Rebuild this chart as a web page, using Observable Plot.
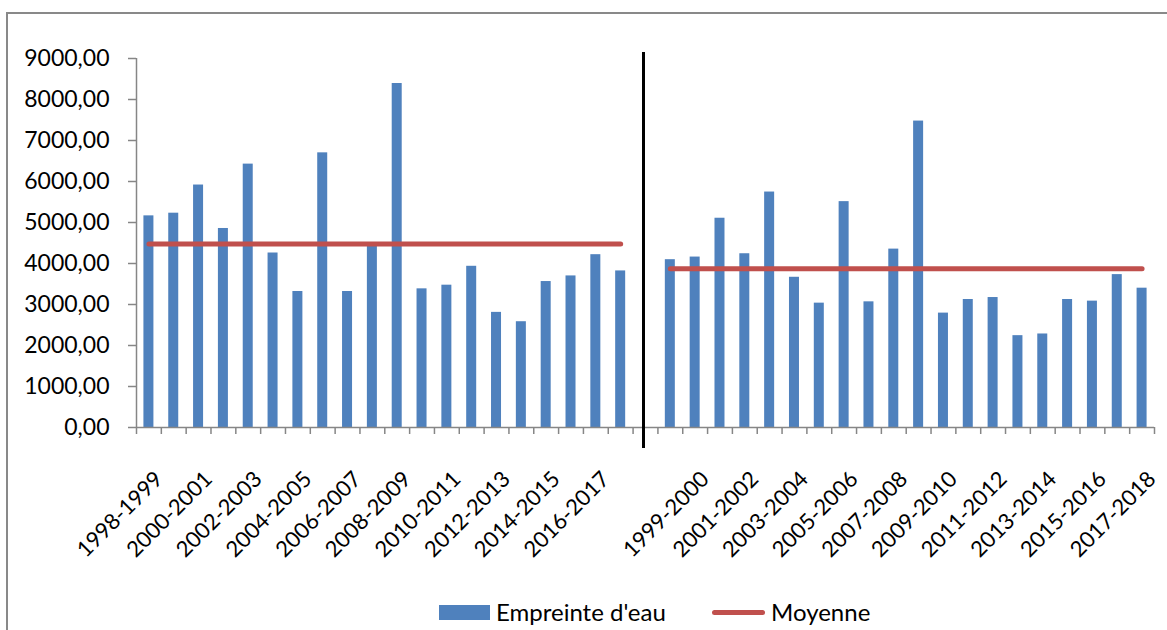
<!DOCTYPE html>
<html>
<head>
<meta charset="utf-8">
<script src="https://cdn.jsdelivr.net/npm/d3@7"></script>
<script src="https://cdn.jsdelivr.net/npm/@observablehq/plot@0.6"></script>
<style>
  html, body { margin: 0; padding: 0; background: #fff; overflow: hidden; width: 1167px; height: 630px; }
  #wrap { position: relative; width: 1167px; height: 630px; font-family: Lato, "Open Sans", sans-serif; color: #000; overflow: hidden; }
  #frame { position: absolute; left: 6px; top: 12px; width: 1400px; height: 900px; border: 2px solid #898989; box-sizing: border-box; }
  #chart { position: absolute; left: 0; top: 0; }
  .lg { position: absolute; }
  #swBar { left: 439px; top: 605px; width: 51px; height: 15px; background: #4F81BD; }
  #txtBar { left: 496px; top: 598px; font-size: 24px; line-height: 28px; white-space: nowrap; }
  #swLine { left: 712px; top: 610px; width: 53px; height: 5px; background: #C0504D; border-radius: 3px; }
  #txtLine { left: 771px; top: 598px; font-size: 24px; line-height: 28px; white-space: nowrap; }
</style>
</head>
<body>
<div id="wrap">
  <div id="frame"></div>
  <div id="chart"></div>
  <div class="lg" id="swBar"></div>
  <div class="lg" id="txtBar"></div>
  <div class="lg" id="swLine"></div>
  <div class="lg" id="txtLine"></div>
</div>
<script>
// ---- data ----
const saisons = ["1998-1999","1999-2000","2000-2001","2001-2002","2002-2003","2003-2004","2004-2005",
  "2005-2006","2006-2007","2007-2008","2008-2009","2009-2010","2010-2011","2011-2012","2012-2013",
  "2013-2014","2014-2015","2015-2016","2016-2017","2017-2018"];
const empreinteGauche = [5162,5227,5914,4854,6424,4256,3317,6699,3317,4500,8390,3382,3471,3932,2808,2580,3560,3697,4215,3819];
const empreinteDroite = [4093,4157,5104,4238,5743,3664,3033,5509,3065,4351,7474,2790,3122,3170,2240,2281,3122,3082,3729,3398];
const moyenneGauche = 4475;
const moyenneDroite = 3870;
const yTicks = [0,1000,2000,3000,4000,5000,6000,7000,8000,9000];
const legendLabels = ["Empreinte d'eau", "Moyenne"];

// ---- build tables ----
const keyG = saisons.map(s => "G|" + s);
const keyD = saisons.map(s => "D|" + s);
const domain = [...keyG, "gap", ...keyD];
const bars = [
  ...keyG.map((k, i) => ({key: k, value: empreinteGauche[i]})),
  ...keyD.map((k, i) => ({key: k, value: empreinteDroite[i]}))
];
const meanG = keyG.map(k => ({key: k, value: moyenneGauche}));
const meanD = keyD.map(k => ({key: k, value: moyenneDroite}));
const labels = domain
  .map((k, i) => ({key: k, i, label: k.includes("|") ? k.split("|")[1] : ""}))
  .filter(d => d.i % 2 === 0 && d.label !== "");

const W = 1167, H = 630, mL = 136, mR = 13, mT = 58, mB = 203;
const step = (W - mL - mR) / domain.length;
const barW = 10;
const inset = (step - barW) / 2;
const axisGray = "#868686";

const chart = Plot.plot({
  width: W, height: H,
  marginLeft: mL, marginRight: mR, marginTop: mT, marginBottom: mB,
  style: {fontFamily: "Lato, 'Open Sans', sans-serif", fontSize: "23px", color: "#000", background: "transparent", overflow: "visible"},
  x: {type: "band", domain, padding: 0, axis: null, label: null},
  y: {domain: [0, 9000], axis: null, label: null},
  marks: [
    Plot.barY(bars, {x: "key", y: "value", fill: "#4F81BD", insetLeft: inset, insetRight: inset}),
    Plot.ruleY([0], {stroke: axisGray, strokeWidth: 1.5}),
    Plot.ruleX([domain[0]], {dx: -step / 2, stroke: axisGray, strokeWidth: 1.5}),
    Plot.axisY({ticks: yTicks, tickFormat: d => d.toFixed(2).replace(".", ","), tickSize: 8, tickPadding: 19,
      stroke: axisGray, strokeWidth: 1.5, fill: "#000", fontSize: 23, label: null}),
    Plot.axisX({ticks: domain, tickFormat: () => "", tickSize: 7, dx: -step / 2, stroke: axisGray, strokeWidth: 1.5, label: null}),
    Plot.axisX({ticks: [domain[domain.length - 1]], tickFormat: () => "", tickSize: 7, dx: step / 2, stroke: axisGray, strokeWidth: 1.5, label: null}),
    Plot.text(labels, {x: "key", text: "label", frameAnchor: "bottom", rotate: -45, textAnchor: "end",
      lineAnchor: "top", dx: 4, dy: 42, fontSize: 22, fill: "#000"}),
    Plot.lineY(meanG, {x: "key", y: "value", stroke: "#C0504D", strokeWidth: 5, strokeLinecap: "round"}),
    Plot.lineY(meanD, {x: "key", y: "value", stroke: "#C0504D", strokeWidth: 5, strokeLinecap: "round"}),
    Plot.ruleX(["gap"], {stroke: "#000", strokeWidth: 3, insetTop: -6, insetBottom: -21, dx: -2})
  ]
});
document.getElementById("chart").appendChild(chart);
document.getElementById("txtBar").textContent = legendLabels[0];
document.getElementById("txtLine").textContent = legendLabels[1];
</script>
</body>
</html>
